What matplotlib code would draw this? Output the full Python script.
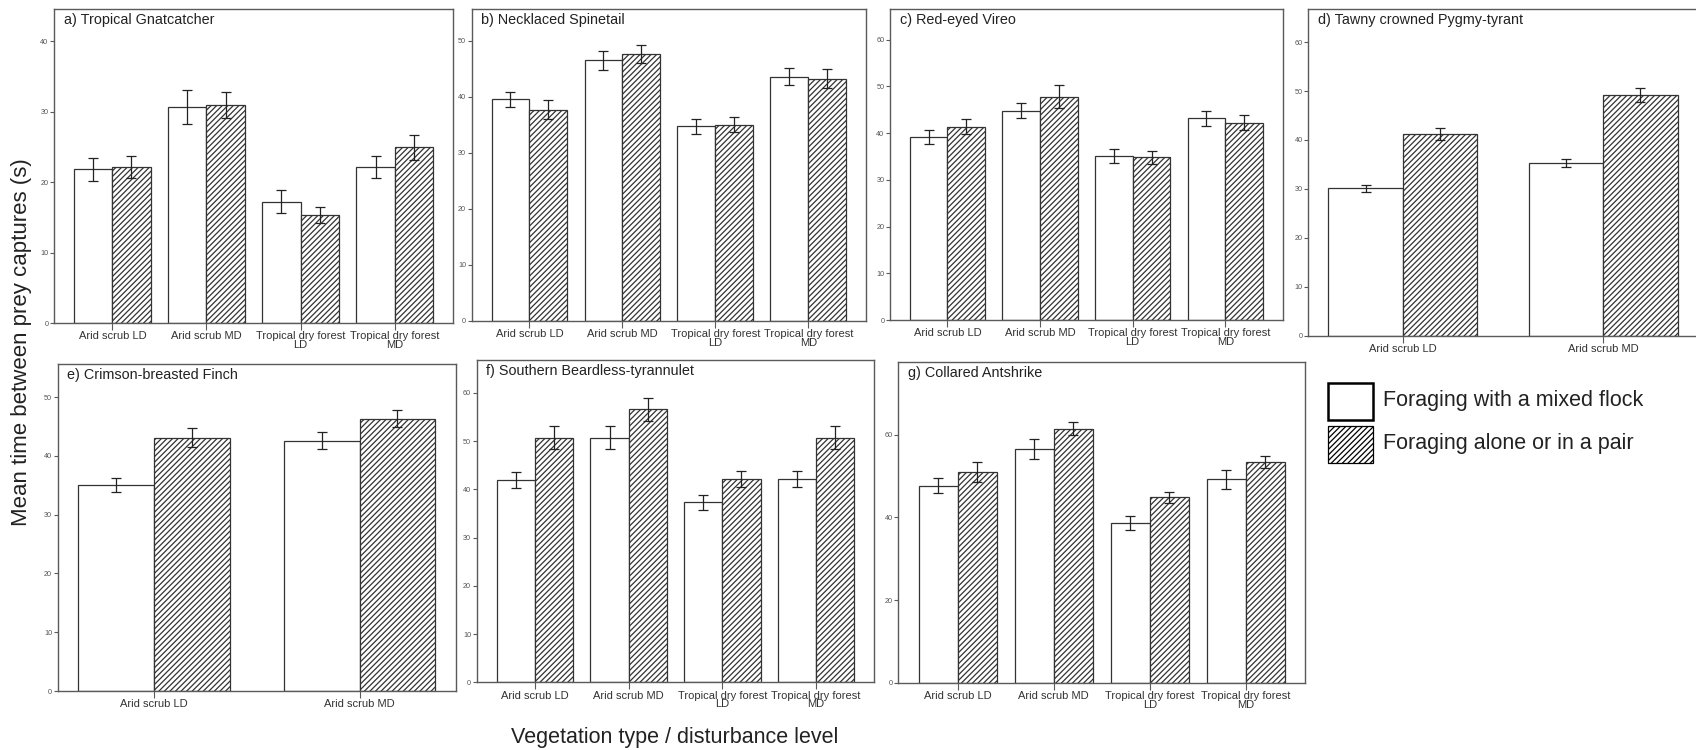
import matplotlib
matplotlib.use("Agg")
import matplotlib.pyplot as plt
import numpy as np
from matplotlib.patches import Rectangle

plt.rcParams['font.family'] = ['Liberation Sans', 'DejaVu Sans']
plt.rcParams['hatch.linewidth'] = 0.9

# ---------------- data ----------------
cats4 = ["Arid scrub LD", "Arid scrub MD", "Tropical dry forest\nLD", "Tropical dry forest\nMD"]
cats2 = ["Arid scrub LD", "Arid scrub MD"]

titles = ["a) Tropical Gnatcatcher", "b) Necklaced Spinetail", "c) Red-eyed Vireo",
          "d) Tawny crowned Pygmy-tyrant", "e) Crimson-breasted Finch",
          "f) Southern Beardless-tyrannulet", "g) Collared Antshrike"]

a_flock = [21.8, 30.6, 17.2, 22.1]
a_flock_err = [1.6, 2.4, 1.6, 1.6]
a_alone = [22.1, 30.9, 15.3, 24.9]
a_alone_err = [1.6, 1.8, 1.1, 1.8]

b_flock = [39.5, 46.5, 34.7, 43.6]
b_flock_err = [1.4, 1.7, 1.4, 1.6]
b_alone = [37.7, 47.7, 35.0, 43.2]
b_alone_err = [1.7, 1.6, 1.3, 1.7]

c_flock = [39.1, 44.8, 35.2, 43.2]
c_flock_err = [1.5, 1.6, 1.5, 1.6]
c_alone = [41.4, 47.8, 34.8, 42.2]
c_alone_err = [1.6, 2.4, 1.4, 1.6]

d_flock = [30.1, 35.3]
d_flock_err = [0.75, 0.8]
d_alone = [41.2, 49.2]
d_alone_err = [1.25, 1.35]

e_flock = [35.1, 42.6]
e_flock_err = [1.2, 1.5]
e_alone = [43.1, 46.3]
e_alone_err = [1.6, 1.45]

f_flock = [41.9, 50.7, 37.3, 42.1]
f_flock_err = [1.6, 2.4, 1.6, 1.6]
f_alone = [50.7, 56.6, 42.1, 50.7]
f_alone_err = [2.4, 2.4, 1.6, 2.4]

g_flock = [47.7, 56.5, 38.6, 49.2]
g_flock_err = [1.75, 2.4, 1.75, 2.4]
g_alone = [51.0, 61.5, 44.9, 53.4]
g_alone_err = [2.5, 1.65, 1.35, 1.55]

legend_labels = ["Foraging with a mixed flock", "Foraging alone or in a pair"]

# ---------------- layout (pixels) ----------------
W, H = 1696, 750
fig = plt.figure(figsize=(W / 100, H / 100), dpi=100)

panels = [
    # (L, T, R, B, ymax, ystep, cats, flock, ferr, alone, aerr)
    (54, 9.3, 453, 323, 44.5, 10, cats4, a_flock, a_flock_err, a_alone, a_alone_err),
    (471.7, 9.3, 866, 320.7, 55.6, 10, cats4, b_flock, b_flock_err, b_alone, b_alone_err),
    (890, 9.3, 1282.7, 320, 66.5, 10, cats4, c_flock, c_flock_err, c_alone, c_alone_err),
    (1308.3, 9.3, 1697.7, 335.7, 66.7, 10, cats2, d_flock, d_flock_err, d_alone, d_alone_err),
    (57.7, 363.7, 456, 691, 55.7, 10, cats2, e_flock, e_flock_err, e_alone, e_alone_err),
    (476.7, 360, 874.3, 682.3, 66.8, 10, cats4, f_flock, f_flock_err, f_alone, f_alone_err),
    (898.3, 361.7, 1305.3, 682.7, 77.7, 20, cats4, g_flock, g_flock_err, g_alone, g_alone_err),
]

edge = '#333333'
spine_c = '#5a5a5a'

for (L, T, R, B, ymax, ystep, cats, fl, fle, al, ale), title in zip(panels, titles):
    ax = fig.add_axes([L / W, 1 - B / H, (R - L) / W, (B - T) / H])
    n = len(cats)
    x = np.arange(n)
    if n == 4:
        w = 0.407
        xpad = 0.62
    else:
        w = 0.37
        xpad = 0.47
    ax.bar(x - w / 2, fl, width=w, color='white', edgecolor=edge, linewidth=0.9, zorder=2)
    ax.bar(x + w / 2, al, width=w, color='white', edgecolor=edge, hatch='//////', linewidth=0.9, zorder=2)
    ax.errorbar(x - w / 2, fl, yerr=fle, fmt='none', ecolor='#222222', elinewidth=0.9,
                capsize=3.9, capthick=0.9, zorder=3)
    ax.errorbar(x + w / 2, al, yerr=ale, fmt='none', ecolor='#222222', elinewidth=0.9,
                capsize=3.9, capthick=0.9, zorder=3)
    ax.set_xlim(-xpad, n - 1 + xpad)
    ax.set_ylim(0, ymax)
    ax.set_yticks(np.arange(0, ymax, ystep))
    ax.set_xticks(x)
    ax.set_xticklabels(cats, fontsize=8, color='#333333', linespacing=0.85)
    ax.tick_params(axis='y', labelsize=5.2, labelcolor='#555555', length=3, width=0.8,
                   color=spine_c, pad=1)
    ax.tick_params(axis='x', length=5, width=0.8, color=spine_c, pad=1)
    for s in ax.spines.values():
        s.set_color(spine_c)
        s.set_linewidth(1.0)
    ax.annotate(title, xy=(0, 1), xycoords='axes fraction', xytext=(7, -3),
                textcoords='offset points', ha='left', va='top', fontsize=10.4, color='#222222')

# axis labels
fig.text(22 / W, 1 - 342 / H, "Mean time between prey captures (s)", rotation=90,
         ha='center', va='center', fontsize=16, color='#222222')
fig.text(675 / W, 1 - 738 / H, "Vegetation type / disturbance level",
         ha='center', va='center', fontsize=15.5, color='#222222')

# legend
for i, lab in enumerate(legend_labels):
    top = 383 + i * 43
    rect = Rectangle((1328 / W, 1 - (top + 37) / H), 45 / W, 37 / H, transform=fig.transFigure,
                     facecolor='white', edgecolor='black', linewidth=1.8 if i == 0 else 0.9,
                     hatch=None if i == 0 else '//////')
    fig.patches.append(rect)
    fig.text(1383 / W, 1 - (top + 18) / H, lab, ha='left', va='center', fontsize=15.5, color='#222222')

fig.savefig("out.png", dpi=100)
